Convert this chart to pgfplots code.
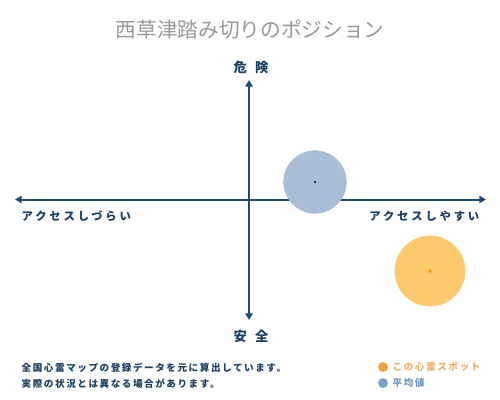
\documentclass[border=0pt]{standalone}
\usepackage{fontspec}
\usepackage{pgfplots}
\pgfplotsset{compat=1.18}
\usetikzlibrary{arrows.meta}
\newfontfamily\jp{Noto Sans CJK JP}
\newfontfamily\jpsp[LetterSpace=25]{Noto Sans CJK JP}
\newfontfamily\jpfoot[LetterSpace=16]{Noto Sans CJK JP}
\newfontfamily\jpwide[LetterSpace=60]{Noto Sans CJK JP}
\definecolor{navy}{HTML}{1F4A78}
\definecolor{txtblue}{HTML}{1C3F66}
\definecolor{avgfill}{HTML}{A9BDD6}
\definecolor{spotfill}{HTML}{FDC96C}
\definecolor{spotdot}{HTML}{F0A040}
\definecolor{spotcenter}{HTML}{EE9410}
\definecolor{avgdot}{HTML}{7BA3C8}
\definecolor{spottxt}{HTML}{F2B066}
\definecolor{avgtxt}{HTML}{6F97C0}
\begin{document}
\begin{tikzpicture}
\path[use as bounding box] (0,0) rectangle (375pt,300pt);
\begin{axis}[
    at={(0,0)}, anchor=south west,
    scale only axis, width=375pt, height=300pt,
    xmin=0, xmax=500, ymin=0, ymax=400, y dir=reverse,
    hide axis, clip=false]
% circles: this spot and average
\addplot[only marks, mark=*, mark size=23.5pt, mark options={draw=avgfill, fill=avgfill}] coordinates {(315,182)};
\addplot[only marks, mark=*, mark size=26.3pt, mark options={draw=spotfill, fill=spotfill}] coordinates {(430,271)};
\addplot[only marks, mark=*, mark size=0.7pt, color=txtblue] coordinates {(315,182)};
\addplot[only marks, mark=*, mark size=1.2pt, color=spotcenter] coordinates {(430,271)};
% axes arrows
\draw[navy, line width=1.5pt, {Triangle[length=5pt,width=5.5pt]}-{Triangle[length=5pt,width=5.5pt]}]
    (axis cs:15,199.5) -- (axis cs:486,199.5);
\draw[navy, line width=1.5pt, {Triangle[length=5pt,width=5.5pt]}-{Triangle[length=5pt,width=5.5pt]}]
    (axis cs:249,80) -- (axis cs:249,320);
% labels
\node[text=gray!80, font=\jp\fontsize{15.5pt}{17pt}\selectfont] at (axis cs:250,30) {西草津踏み切りのポジション};
\node[text=txtblue, font=\jpwide\bfseries\fontsize{10pt}{12pt}\selectfont] at (axis cs:251,67) {危険};
\node[text=txtblue, font=\jpwide\bfseries\fontsize{10pt}{12pt}\selectfont] at (axis cs:251,336) {安全};
\node[text=txtblue, anchor=west, font=\jpsp\bfseries\fontsize{8.5pt}{10pt}\selectfont] at (axis cs:17,216) {アクセスしづらい};
\node[text=txtblue, anchor=east, font=\jpsp\bfseries\fontsize{8.5pt}{10pt}\selectfont] at (axis cs:484,216) {アクセスしやすい};
% footer
\node[text=txtblue, anchor=west, font=\jpfoot\bfseries\fontsize{7.2pt}{9pt}\selectfont] at (axis cs:17,368) {全国心霊マップの登録データを元に算出しています。};
\node[text=txtblue, anchor=west, font=\jpfoot\bfseries\fontsize{7.2pt}{9pt}\selectfont] at (axis cs:17,384) {実際の状況とは異なる場合があります。};
% legend
\addplot[only marks, mark=*, mark size=3.5pt, color=spotdot] coordinates {(383,367)};
\addplot[only marks, mark=*, mark size=3.5pt, color=avgdot] coordinates {(383,383)};
\node[text=spottxt, anchor=west, font=\jpfoot\bfseries\fontsize{7.2pt}{9pt}\selectfont] at (axis cs:388,367) {この心霊スポット};
\node[text=avgtxt, anchor=west, font=\jpfoot\bfseries\fontsize{7.2pt}{9pt}\selectfont] at (axis cs:388,383) {平均値};
\end{axis}
\end{tikzpicture}
\end{document}
